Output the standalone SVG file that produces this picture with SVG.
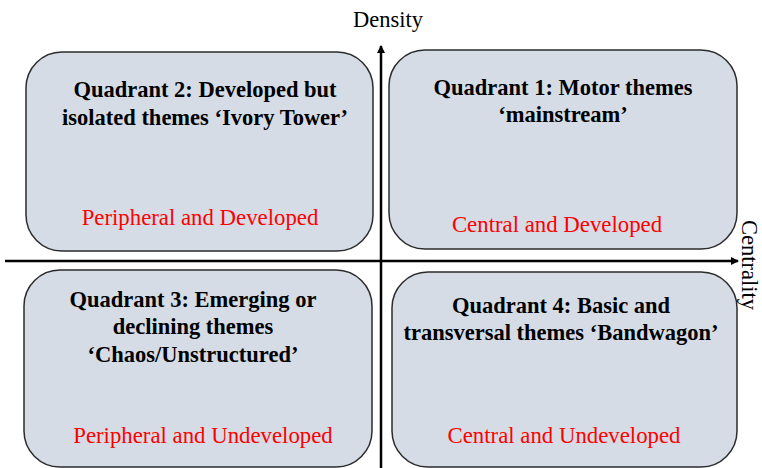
<svg xmlns="http://www.w3.org/2000/svg" width="762" height="468" viewBox="0 0 762 468">
<style>
.box{fill:#d6dce5;stroke:#2b2b2b;stroke-width:1.5}
.t{font-family:"Liberation Serif","Times New Roman",serif;font-size:22.5px;font-weight:bold;fill:#000;text-anchor:middle}
.r{font-family:"Liberation Serif","Times New Roman",serif;font-size:22.8px;fill:#ff0000;text-anchor:middle}
.ax{font-family:"Liberation Serif","Times New Roman",serif;font-size:22.5px;fill:#000;text-anchor:middle}
.axis{stroke:#000;stroke-width:2.5;fill:none}
</style>
<defs>
<marker id="ah" markerWidth="8" markerHeight="8" refX="7" refY="4" orient="auto" markerUnits="userSpaceOnUse">
<path d="M0,0 L8,4 L0,8 Z" fill="#000"/>
</marker>
</defs>
<rect width="762" height="468" fill="#fff"/>
<g id="q2">
<rect class="box" x="26" y="52" width="347" height="199" rx="36"/>
<text class="t" x="205" y="97">Quadrant 2: Developed but</text>
<text class="t" x="205" y="125">isolated themes ‘Ivory Tower’</text>
<text class="r" x="200" y="225">Peripheral and Developed</text>
</g>
<g id="q1">
<rect class="box" x="389" y="50" width="348" height="199" rx="36"/>
<text class="t" x="563" y="95">Quadrant 1: Motor themes</text>
<text class="t" x="563" y="122">‘mainstream’</text>
<text class="r" x="557" y="232">Central and Developed</text>
</g>
<g id="q3">
<rect class="box" x="24" y="270" width="348" height="197" rx="36"/>
<text class="t" x="193" y="307">Quadrant 3: Emerging or</text>
<text class="t" x="193" y="334">declining themes</text>
<text class="t" x="193" y="362">‘Chaos/Unstructured’</text>
<text class="r" x="203" y="443">Peripheral and Undeveloped</text>
</g>
<g id="q4">
<rect class="box" x="392" y="272" width="345" height="195" rx="36"/>
<text class="t" x="561" y="313">Quadrant 4: Basic and</text>
<text class="t" x="561" y="340">transversal themes ‘Bandwagon’</text>
<text class="r" x="564" y="443">Central and Undeveloped</text>
</g>
<g id="connectors">
<line class="axis" x1="381" y1="468" x2="381" y2="46" marker-end="url(#ah)"/>
<line class="axis" x1="5" y1="261" x2="738" y2="261" marker-end="url(#ah)"/>
</g>
<g id="labels">
<text class="ax" x="388" y="27">Density</text>
<text class="ax" transform="translate(742,265) rotate(90)" x="0" y="0">Centrality</text>
</g>
</svg>
